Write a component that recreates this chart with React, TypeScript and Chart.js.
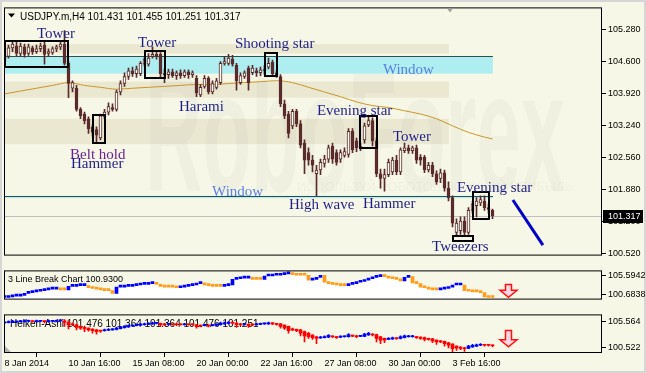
import React, { useEffect, useRef } from "react";
import { Chart, registerables } from "chart.js";

Chart.register(...registerables);
Chart.defaults.font.family = '"Liberation Sans", Arial, sans-serif';

const CREAM = "#f7f7e7";
const BROWN = "#5a2b2b";
const NAVY = "#1f1f8c";
const WIN_BLUE = "#5b7fe3";
const PURPLE = "#6c1f8e";
const MA_COLOR = "#c89628";
const HA_BLUE = "#0000ff";
const HA_RED = "#ff0000";
const LB_BLUE = "#0000ff";
const LB_ORANGE = "#ff9c1a";

const X_MIN = -0.125;
const X_MAX = 149.375;

const symbolTitle = "USDJPY.m,H4 101.431 101.455 101.251 101.317";
const lbTitle = "3 Line Break Chart 100.9300";
const haTitle = "Heiken-Ashi 101.476 101.364 101.364 101.476 101.251";
const lastPrice = 101.317;

const xTickIndex = [0, 16, 32, 48, 64, 80, 96, 112];
const xTickLabels = ["8 Jan 2014", "10 Jan 16:00", "15 Jan 08:00", "20 Jan 00:00", "22 Jan 16:00", "27 Jan 08:00", "30 Jan 00:00", "3 Feb 16:00"];
const priceTicks = [105.28, 104.6, 103.92, 103.24, 102.56, 101.88, 101.2, 100.52];
const lbTicks = [105.5942, 100.6838];
const haTicks = [105.564, 100.522];

// ---- USDJPY H4 candles ----
const openP = [
  104.77, 104.71, 104.89, 104.93, 104.77, 104.91, 104.77, 104.89, 104.81, 104.87,
  104.95, 104.77, 104.79, 104.87, 104.91, 104.97, 104.56, 104.03, 104.03, 103.58,
  103.48, 103.38, 103.21, 103.15, 102.97, 103.42, 103.52, 103.62, 103.58, 103.95,
  104.13, 104.28, 104.40, 104.34, 104.34, 104.54, 104.54, 104.71, 104.75, 104.75,
  104.34, 104.32, 104.38, 104.30, 104.36, 104.30, 104.38, 104.32, 104.24, 103.89,
  104.07, 104.24, 103.95, 104.05, 104.15, 104.56, 104.56, 104.65, 104.52, 104.15,
  104.28, 104.46, 104.36, 104.40, 104.36, 104.40, 104.48, 104.58, 104.36, 104.28,
  103.70, 103.48, 103.23, 103.54, 103.27, 102.86, 102.66, 102.50, 102.21, 102.29,
  102.43, 102.52, 102.80, 102.66, 102.52, 102.60, 102.62, 103.11, 102.91, 102.76,
  102.93, 103.25, 103.34, 102.91, 102.21, 102.11, 102.19, 102.25, 102.50, 102.25,
  102.70, 102.76, 102.70, 102.76, 102.56, 102.56, 102.29, 102.39, 102.21, 102.11,
  102.23, 101.90, 101.70, 100.96, 101.00, 101.20, 100.96, 101.43, 101.53, 101.59,
  101.63, 101.49, 101.431,
];
const highP = [
  104.85, 104.95, 105.05, 105.01, 104.99, 104.97, 104.97, 104.93, 104.95, 104.99,
  105.01, 104.87, 104.91, 104.95, 105.01, 105.26, 104.60, 104.19, 104.09, 103.62,
  103.52, 103.42, 103.25, 103.21, 103.48, 103.58, 103.72, 103.70, 103.99, 104.19,
  104.36, 104.46, 104.48, 104.50, 104.60, 104.71, 104.77, 104.91, 104.81, 104.79,
  104.44, 104.44, 104.44, 104.40, 104.42, 104.42, 104.42, 104.40, 104.30, 104.11,
  104.30, 104.28, 104.19, 104.24, 104.60, 104.71, 104.75, 104.73, 104.56, 104.36,
  104.40, 104.50, 104.52, 104.46, 104.48, 104.52, 104.67, 104.63, 104.40, 104.32,
  103.78, 103.54, 103.58, 103.58, 103.34, 102.93, 102.76, 102.60, 102.39, 102.52,
  102.60, 102.82, 102.86, 102.72, 102.72, 102.76, 103.17, 103.17, 102.97, 102.86,
  103.29, 103.42, 103.40, 102.97, 102.31, 102.31, 102.52, 102.56, 102.60, 102.76,
  102.86, 102.82, 102.80, 102.82, 102.62, 102.60, 102.45, 102.45, 102.27, 102.31,
  102.29, 102.04, 101.74, 101.25, 101.29, 101.29, 101.49, 101.63, 101.70, 101.74,
  101.74, 101.57, 101.455,
];
const lowP = [
  104.56, 104.67, 104.81, 104.71, 104.71, 104.69, 104.73, 104.75, 104.77, 104.81,
  104.54, 104.71, 104.75, 104.81, 104.85, 104.52, 103.83, 103.95, 103.54, 103.38,
  103.27, 103.07, 103.01, 102.86, 102.93, 103.38, 103.46, 103.54, 103.54, 103.89,
  104.07, 104.22, 104.28, 104.26, 104.30, 104.50, 104.50, 104.67, 104.65, 104.26,
  104.15, 104.24, 104.26, 104.22, 104.24, 104.26, 104.24, 104.26, 103.85, 103.85,
  104.03, 103.91, 103.91, 104.01, 104.11, 104.52, 104.52, 104.50, 103.99, 104.11,
  104.24, 103.99, 104.32, 104.28, 104.30, 104.32, 104.44, 104.30, 104.26, 103.64,
  103.38, 102.97, 103.17, 103.21, 102.76, 102.21, 102.39, 102.25, 101.74, 102.19,
  102.35, 102.45, 102.43, 102.39, 102.45, 102.56, 102.56, 102.66, 102.68, 102.70,
  102.86, 103.21, 102.80, 102.15, 101.90, 101.84, 102.15, 102.19, 102.19, 102.19,
  102.66, 102.64, 102.64, 102.43, 102.39, 102.23, 102.25, 102.15, 101.98, 102.02,
  101.84, 101.63, 101.08, 100.90, 100.92, 100.90, 100.92, 101.37, 101.29, 101.53,
  101.43, 101.37, 101.251,
];
const closeP = [
  104.60, 104.89, 104.97, 104.77, 104.93, 104.75, 104.91, 104.81, 104.87, 104.93,
  104.75, 104.81, 104.87, 104.91, 104.97, 104.56, 104.13, 104.15, 103.58, 103.44,
  103.34, 103.17, 103.09, 103.03, 103.44, 103.52, 103.64, 103.58, 103.95, 104.13,
  104.28, 104.40, 104.34, 104.44, 104.56, 104.65, 104.67, 104.75, 104.71, 104.34,
  104.32, 104.38, 104.30, 104.36, 104.30, 104.38, 104.32, 104.36, 103.93, 104.05,
  104.24, 103.95, 104.13, 104.19, 104.56, 104.60, 104.67, 104.54, 104.19, 104.30,
  104.36, 104.15, 104.46, 104.36, 104.42, 104.44, 104.56, 104.34, 104.30, 103.70,
  103.44, 103.07, 103.54, 103.27, 102.82, 102.50, 102.50, 102.39, 102.29, 102.45,
  102.52, 102.76, 102.52, 102.45, 102.66, 102.68, 103.11, 102.72, 102.76, 102.80,
  103.23, 103.34, 102.91, 102.21, 102.11, 102.19, 102.45, 102.50, 102.25, 102.72,
  102.76, 102.70, 102.76, 102.50, 102.50, 102.29, 102.39, 102.21, 102.04, 102.23,
  101.90, 101.70, 101.16, 101.16, 101.20, 100.96, 101.43, 101.57, 101.63, 101.66,
  101.49, 101.45, 101.317,
];

// moving average (read at every 4th bar)
const maIndex = [0, 4, 8, 12, 16, 20, 24, 28, 32, 36, 40, 44, 48, 52, 56, 60, 64, 68, 72, 76, 80, 84, 88, 92, 96, 100, 104, 108, 112, 116, 120, 122];
const maValue = [103.91, 103.97, 104.03, 104.09, 104.15, 104.09, 104.05, 104.01, 104.03, 104.05, 104.07, 104.09, 104.11, 104.11, 104.13, 104.15, 104.17, 104.19, 104.15, 104.05, 103.95, 103.85, 103.74, 103.66, 103.62, 103.55, 103.48, 103.38, 103.23, 103.09, 102.99, 102.95];

// forecast line
const forecastIndex = [127.1, 134.6];
const forecastValue = [101.65, 100.69];

// ---- 3 Line Break levels ----
const lbValue = [
  100.04, 100.22, 100.39, 100.39, 100.56, 101.08, 101.26, 101.43, 101.60, 101.78,
  101.95, 102.12, 102.12, 102.30, 101.95, 101.95, 102.82, 102.82, 102.99, 102.99,
  102.99, 102.47, 102.30, 102.12, 101.95, 101.78, 101.78, 101.08, 102.64, 102.64,
  102.82, 102.82, 102.99, 103.17, 103.34, 103.34, 103.51, 103.51, 103.34, 102.82,
  102.64, 102.64, 102.64, 102.47, 102.64, 102.82, 102.99, 103.17, 103.51, 103.69,
  103.17, 102.99, 102.82, 102.82, 102.82, 102.99, 103.17, 104.55, 104.73, 104.90,
  104.90, 105.07, 104.55, 104.55, 104.55, 105.42, 105.42, 105.59, 105.59, 105.77,
  105.94, 106.12, 105.77, 105.59, 105.59, 105.59, 104.38, 104.55, 105.07, 105.59,
  103.86, 103.51, 103.34, 103.17, 102.99, 102.99, 103.34, 103.51, 103.86, 104.03,
  104.38, 104.73, 105.07, 105.25, 105.42, 105.25, 104.90, 104.73, 104.55, 104.21,
  105.07, 105.25, 103.69, 103.51, 102.64, 102.47, 102.12, 101.95, 101.95, 102.12,
  102.30, 102.64, 103.17, 103.17, 103.17, 101.78, 101.60, 101.43, 101.43, 101.26,
  100.22, 100.04, 100.04,
];

// ---- Heiken-Ashi ----
const haOpen = [
  105.35, 105.43, 105.51, 105.51, 105.60, 105.60, 105.68, 105.68, 105.60, 105.68,
  105.68, 105.60, 105.68, 105.68, 105.77, 105.77, 105.51, 105.18, 105.01, 104.67,
  104.50, 104.34, 104.17, 104.00, 103.83, 103.83, 103.92, 104.00, 104.09, 104.25,
  104.42, 104.59, 104.76, 104.84, 104.93, 105.01, 105.09, 105.18, 105.26, 105.26,
  105.18, 105.09, 105.09, 105.09, 105.09, 105.01, 105.09, 105.09, 105.01, 104.84,
  104.84, 104.93, 104.84, 104.93, 105.01, 105.18, 105.26, 105.35, 105.35, 105.18,
  105.09, 105.09, 105.01, 105.01, 105.09, 105.18, 105.18, 105.26, 105.18, 105.18,
  104.93, 104.67, 104.17, 104.09, 104.00, 103.67, 103.33, 102.99, 102.66, 102.41,
  102.49, 102.57, 102.74, 102.66, 102.57, 102.66, 102.66, 102.83, 102.83, 102.74,
  102.74, 102.99, 103.16, 103.08, 102.66, 102.32, 102.15, 102.24, 102.32, 102.32,
  102.49, 102.66, 102.66, 102.66, 102.57, 102.49, 102.32, 102.24, 101.99, 101.82,
  101.74, 101.48, 101.23, 100.81, 100.64, 100.47, 100.39, 100.64, 100.81, 100.98,
  101.06, 101.06, 100.98,
];
const haClose = [
  105.51, 105.60, 105.68, 105.60, 105.68, 105.77, 105.77, 105.60, 105.77, 105.77,
  105.60, 105.68, 105.77, 105.77, 105.85, 105.51, 105.01, 105.01, 104.50, 104.34,
  104.17, 104.00, 103.83, 103.67, 103.75, 104.00, 104.09, 104.09, 104.34, 104.50,
  104.67, 104.84, 104.84, 105.01, 105.09, 105.18, 105.26, 105.26, 105.30, 105.01,
  105.01, 105.13, 105.01, 105.01, 105.01, 105.09, 105.01, 105.01, 104.67, 104.76,
  104.93, 104.76, 104.93, 105.01, 105.35, 105.35, 105.43, 105.31, 105.01, 105.01,
  105.13, 104.84, 104.97, 105.09, 105.18, 105.22, 105.35, 105.18, 105.09, 104.67,
  104.34, 103.83, 104.00, 103.83, 103.33, 102.83, 102.66, 102.49, 102.32, 102.57,
  102.66, 102.91, 102.66, 102.49, 102.66, 102.70, 103.08, 102.79, 102.66, 102.78,
  103.16, 103.33, 102.99, 102.32, 101.99, 101.99, 102.32, 102.41, 102.28, 102.66,
  102.83, 102.74, 102.74, 102.49, 102.32, 102.15, 102.15, 101.82, 101.65, 101.65,
  101.31, 100.98, 100.31, 100.47, 100.39, 100.31, 100.81, 100.98, 101.06, 101.15,
  100.98, 100.98, 100.89,
];
const haHigh = [
  105.68, 105.77, 105.85, 105.77, 105.85, 105.93, 105.93, 105.77, 105.93, 105.85,
  105.77, 105.77, 105.85, 105.93, 106.02, 106.02, 105.60, 105.35, 105.09, 104.76,
  104.59, 104.42, 104.25, 104.09, 103.92, 104.17, 104.25, 104.25, 104.50, 104.67,
  104.84, 105.01, 105.01, 105.18, 105.26, 105.35, 105.43, 105.51, 105.43, 105.35,
  105.26, 105.26, 105.18, 105.18, 105.18, 105.26, 105.18, 105.18, 105.09, 104.93,
  105.09, 105.01, 105.09, 105.18, 105.51, 105.51, 105.60, 105.51, 105.43, 105.26,
  105.26, 105.18, 105.09, 105.26, 105.35, 105.35, 105.51, 105.43, 105.26, 105.26,
  105.01, 104.76, 104.34, 104.17, 104.09, 103.75, 103.50, 103.08, 102.74, 102.74,
  102.83, 103.08, 102.83, 102.74, 102.83, 102.83, 103.25, 102.99, 102.91, 102.91,
  103.33, 103.50, 103.25, 103.16, 102.74, 102.41, 102.49, 102.57, 102.41, 102.83,
  102.99, 102.91, 102.91, 102.74, 102.66, 102.57, 102.41, 102.32, 102.07, 101.90,
  101.82, 101.56, 101.31, 100.89, 100.73, 100.56, 100.98, 101.15, 101.23, 101.31,
  101.15, 101.15, 101.06,
];
const haLow = [
  105.26, 105.35, 105.43, 105.43, 105.51, 105.51, 105.60, 105.51, 105.51, 105.60,
  105.35, 105.51, 105.60, 105.60, 105.68, 104.67, 104.17, 104.84, 104.00, 104.09,
  103.67, 103.75, 103.33, 103.16, 103.50, 103.75, 103.83, 103.92, 104.00, 104.17,
  104.34, 104.50, 104.67, 104.76, 104.84, 104.93, 105.01, 105.09, 105.18, 104.67,
  104.84, 104.93, 104.93, 104.84, 104.93, 104.93, 104.93, 104.93, 104.34, 104.59,
  104.76, 104.59, 104.76, 104.84, 104.93, 105.09, 105.18, 105.18, 104.50, 104.84,
  104.93, 104.50, 104.84, 104.93, 105.01, 105.09, 105.09, 105.01, 104.93, 104.34,
  104.09, 103.33, 103.83, 103.67, 102.83, 101.65, 102.32, 102.15, 101.31, 102.32,
  102.41, 102.49, 102.49, 102.32, 102.49, 102.57, 102.57, 102.66, 102.49, 102.66,
  102.66, 102.91, 102.83, 101.65, 101.31, 101.48, 102.07, 102.15, 102.15, 102.24,
  102.41, 102.57, 102.57, 102.32, 102.15, 101.82, 101.99, 101.48, 101.15, 101.48,
  100.81, 100.47, 99.63, 99.97, 100.14, 99.80, 100.31, 100.56, 100.73, 100.89,
  100.81, 100.81, 100.64,
];

// ---- annotations (bar index / price anchors) ----
const watermarkBands = [
  { top: 104.97, bottom: 104.77, to: 111.1 },
  { top: 104.17, bottom: 103.83, to: 111.1 },
  { top: 103.38, bottom: 102.84, to: 111.1 },
];
const windowZones = [
  { from: -0.125, to: 122.1, top: 104.71, bottom: 104.34 },
  { from: -0.125, to: 122.1, top: 101.74, bottom: 101.69 },
];
const patternBoxes = [
  { from: 0.1, to: 15.9, top: 105.03, bottom: 104.48 },
  { from: 22.1, to: 25.1, top: 103.46, bottom: 102.86 },
  { from: 35.1, to: 40.1, top: 104.83, bottom: 104.24 },
  { from: 65.1, to: 68.1, top: 104.79, bottom: 104.28 },
  { from: 88.9, to: 93.1, top: 103.44, bottom: 102.76 },
  { from: 117.1, to: 121.1, top: 101.82, bottom: 101.25 },
  { from: 112.1, to: 117.1, top: 100.88, bottom: 100.78 },
];
const patternLabels = [
  { text: "Tower", i: 8.1, price: 105.11, color: NAVY },
  { text: "Tower", i: 33.4, price: 104.91, color: NAVY },
  { text: "Shooting star", i: 57.6, price: 104.89, color: NAVY },
  { text: "Window", i: 94.6, price: 104.34, color: WIN_BLUE },
  { text: "Harami", i: 43.6, price: 103.54, color: NAVY },
  { text: "Evening star", i: 78.1, price: 103.46, color: NAVY },
  { text: "Belt hold", i: 16.4, price: 102.53, color: PURPLE },
  { text: "Hammer", i: 16.6, price: 102.33, color: NAVY },
  { text: "Tower", i: 97.1, price: 102.91, color: NAVY },
  { text: "Window", i: 51.9, price: 101.73, color: WIN_BLUE },
  { text: "High wave", i: 71.1, price: 101.45, color: NAVY },
  { text: "Hammer", i: 89.6, price: 101.49, color: NAVY },
  { text: "Evening star", i: 113.1, price: 101.82, color: NAVY },
  { text: "Tweezers", i: 106.9, price: 100.57, color: NAVY },
];
const arrowIndex = 126.0;
const lbArrow = { top: 103.29, bottom: 100.09 };
const haArrow = { top: 103.88, bottom: 100.69 };
const watermarkText = "RoboForex";
const sloganText = "ИСПОЛЬЗУЙ РОБОТОВ ПОЛУЧАЙ ПРИБЫЛЬ";

// ---------- helpers ----------
const idx = openP.map((_, i) => i);

function drawFrame(ctx: CanvasRenderingContext2D, a: any) {
  ctx.save();
  ctx.strokeStyle = "#000";
  ctx.lineWidth = 1;
  ctx.strokeRect(a.left + 0.5, a.top + 0.5, a.right - a.left - 1, a.bottom - a.top - 1);
  ctx.restore();
}

function drawDownArrow(ctx: CanvasRenderingContext2D, cx: number, yTop: number, yBot: number) {
  const sh = 3, hw = 8.5, hh = 7;
  ctx.save();
  ctx.beginPath();
  ctx.moveTo(cx - sh, yTop);
  ctx.lineTo(cx + sh, yTop);
  ctx.lineTo(cx + sh, yBot - hh);
  ctx.lineTo(cx + hw, yBot - hh);
  ctx.lineTo(cx, yBot);
  ctx.lineTo(cx - hw, yBot - hh);
  ctx.lineTo(cx - sh, yBot - hh);
  ctx.closePath();
  ctx.fillStyle = "#ffd8e2";
  ctx.fill();
  ctx.strokeStyle = "#ff1010";
  ctx.lineWidth = 1.5;
  ctx.stroke();
  ctx.restore();
}

function yAxis(min: number, max: number, ticks: number[], digits: number) {
  return {
    position: "right",
    min,
    max,
    afterFit: (s: any) => { s.width = 44; },
    afterBuildTicks: (s: any) => { s.ticks = ticks.map((v) => ({ value: v })); },
    ticks: {
      callback: (v: any) => Number(v).toFixed(digits),
      font: { family: "Liberation Sans", size: 9 },
      color: "#000",
      padding: 2,
      autoSkip: false,
    },
    grid: { drawOnChartArea: false, tickLength: 4, color: "#000" },
    border: { display: false },
  };
}

const baseOptions = {
  responsive: false,
  animation: false,
  devicePixelRatio: 1,
  events: [],
  plugins: { legend: { display: false }, tooltip: { enabled: false }, title: { display: false } },
};

// ---------- main chart ----------
const mainDecor = {
  id: "mainDecor",
  beforeDatasetsDraw(chart: any) {
    const { ctx, chartArea: a, scales } = chart;
    const xs = scales.x, ys = scales.y;
    ctx.save();
    ctx.beginPath();
    ctx.rect(a.left, a.top, a.right - a.left, a.bottom - a.top);
    ctx.clip();
    ctx.fillStyle = "#ebe8d2";
    for (const b of watermarkBands) {
      const x1 = xs.getPixelForValue(b.to);
      const y0 = ys.getPixelForValue(b.top), y1 = ys.getPixelForValue(b.bottom);
      ctx.fillRect(a.left, y0, x1 - a.left, y1 - y0);
    }
    // faint watermark
    ctx.fillStyle = "rgba(40,40,20,0.03)";
    ctx.font = 'bold 170px "Liberation Sans"';
    const w = ctx.measureText(watermarkText).width;
    ctx.save();
    ctx.translate(a.left + 141, a.top + 184);
    ctx.scale(420 / w, 1);
    ctx.fillText(watermarkText, 0, 0);
    ctx.restore();
    ctx.font = '13px "Liberation Sans"';
    ctx.fillText(sloganText, a.left + 293, a.top + 184, 276);
    // windows
    for (const z of windowZones) {
      const x0 = xs.getPixelForValue(z.from), x1 = xs.getPixelForValue(z.to);
      const y0 = ys.getPixelForValue(z.top), y1 = ys.getPixelForValue(z.bottom);
      ctx.fillStyle = "#aeeef0";
      ctx.fillRect(x0, y0, x1 - x0, y1 - y0);
      ctx.strokeStyle = "#2f4f4f";
      ctx.lineWidth = 1;
      const yy = Math.round(y0) + 0.5;
      ctx.beginPath();
      ctx.moveTo(x0, yy);
      ctx.lineTo(x1, yy);
      ctx.stroke();
    }
    // last price line
    const yp = Math.round(ys.getPixelForValue(lastPrice)) + 0.5;
    ctx.strokeStyle = "#c0c0c0";
    ctx.lineWidth = 1;
    ctx.beginPath();
    ctx.moveTo(a.left, yp);
    ctx.lineTo(a.right, yp);
    ctx.stroke();
    ctx.restore();
  },
  afterDatasetsDraw(chart: any) {
    const { ctx, chartArea: a, scales } = chart;
    const xs = scales.x, ys = scales.y;
    ctx.save();
    ctx.strokeStyle = "#000";
    ctx.lineWidth = 2;
    for (const b of patternBoxes) {
      const x0 = Math.round(xs.getPixelForValue(b.from));
      const x1 = Math.round(xs.getPixelForValue(b.to));
      const y0 = Math.round(ys.getPixelForValue(b.top));
      const y1 = Math.round(ys.getPixelForValue(b.bottom));
      ctx.strokeRect(x0, y0, x1 - x0, y1 - y0);
    }
    ctx.font = '15px "Liberation Serif"';
    ctx.textAlign = "left";
    ctx.textBaseline = "alphabetic";
    for (const l of patternLabels) {
      ctx.fillStyle = l.color;
      ctx.fillText(l.text, xs.getPixelForValue(l.i), ys.getPixelForValue(l.price));
    }
    // title
    ctx.fillStyle = "#000";
    ctx.beginPath();
    ctx.moveTo(a.left + 4, a.top + 6);
    ctx.lineTo(a.left + 11, a.top + 6);
    ctx.lineTo(a.left + 7.5, a.top + 10);
    ctx.closePath();
    ctx.fill();
    ctx.font = '10px "Liberation Sans"';
    ctx.fillText(symbolTitle, a.left + 16, a.top + 13);
    ctx.restore();
  },
  afterDraw(chart: any) {
    const { ctx, chartArea: a, scales } = chart;
    drawFrame(ctx, a);
    ctx.save();
    // shift marker
    ctx.fillStyle = "#a0a0a0";
    ctx.beginPath();
    ctx.moveTo(a.left + 443, a.top + 1);
    ctx.lineTo(a.left + 449, a.top + 1);
    ctx.lineTo(a.left + 446, a.top + 5);
    ctx.closePath();
    ctx.fill();
    // last price label
    const yp = Math.round(scales.y.getPixelForValue(lastPrice));
    ctx.fillStyle = "#000";
    ctx.fillRect(a.right + 1, yp - 6, 40, 13);
    ctx.fillStyle = "#fff";
    ctx.font = '9px "Liberation Sans"';
    ctx.textBaseline = "middle";
    ctx.fillText(lastPrice.toFixed(3), a.right + 6, yp + 0.5);
    ctx.restore();
  },
};

function mainConfig(): any {
  const bull = idx.map((i) => closeP[i] >= openP[i]);
  return {
    type: "bar",
    data: {
      datasets: [
        {
          type: "bar",
          data: idx.map((i) => ({ x: i, y: [openP[i], closeP[i]] })),
          barThickness: 3,
          grouped: false,
          borderWidth: 1,
          borderSkipped: false,
          borderColor: BROWN,
          backgroundColor: bull.map((b) => (b ? "#fbfbf3" : BROWN)),
          minBarLength: 1,
          order: 0,
        },
        {
          type: "bar",
          data: idx.map((i) => ({ x: i, y: [lowP[i], highP[i]] })),
          barThickness: 1,
          grouped: false,
          borderWidth: 0,
          backgroundColor: BROWN,
          order: 1,
        },
        {
          type: "line",
          data: maIndex.map((x, k) => ({ x, y: maValue[k] })),
          borderColor: MA_COLOR,
          borderWidth: 1,
          pointRadius: 0,
          cubicInterpolationMode: "monotone",
          order: 2,
        },
        {
          type: "line",
          data: forecastIndex.map((x, k) => ({ x, y: forecastValue[k] })),
          borderColor: "#0000cd",
          borderWidth: 3,
          pointRadius: 0,
          order: 0,
        },
      ],
    },
    options: {
      ...baseOptions,
      layout: { padding: { left: 4, right: 0, top: 4, bottom: 1 } },
      scales: {
        x: { type: "linear", min: X_MIN, max: X_MAX, offset: false, display: false },
        y: yAxis(100.467, 105.751, priceTicks, 3),
      },
    },
    plugins: [mainDecor],
  };
}

// ---------- 3 line break ----------
const lbDecor = {
  id: "lbDecor",
  beforeDatasetsDraw(chart: any) {
    const { ctx, chartArea: a } = chart;
    ctx.save();
    ctx.fillStyle = "#000";
    ctx.font = '9px "Liberation Sans"';
    ctx.fillText(lbTitle, a.left + 4, a.top + 12);
    ctx.restore();
  },
  afterDatasetsDraw(chart: any) {
    const { ctx, scales } = chart;
    drawDownArrow(ctx, scales.x.getPixelForValue(arrowIndex), scales.y.getPixelForValue(lbArrow.top), scales.y.getPixelForValue(lbArrow.bottom));
  },
  afterDraw(chart: any) {
    drawFrame(chart.ctx, chart.chartArea);
  },
};

function lbConfig(): any {
  const colors: string[] = [];
  let dir = 1;
  lbValue.forEach((v, i) => {
    if (i > 0) {
      if (v > lbValue[i - 1]) dir = 1;
      else if (v < lbValue[i - 1]) dir = -1;
    }
    colors.push(dir > 0 ? LB_BLUE : LB_ORANGE);
  });
  return {
    type: "bar",
    data: {
      datasets: [
        {
          type: "bar",
          data: lbValue.map((v, i) => ({ x: i, y: [i ? lbValue[i - 1] : v, v] })),
          barThickness: 3,
          grouped: false,
          borderWidth: 0,
          backgroundColor: colors,
          minBarLength: 2,
          order: 0,
        },
        {
          type: "line",
          data: lbValue.map((v, i) => ({ x: i, y: v })),
          borderWidth: 0,
          pointRadius: 0,
          fill: "start",
          backgroundColor: "#ffffff",
          stepped: "middle",
          order: 1,
        },
      ],
    },
    options: {
      ...baseOptions,
      layout: { padding: { left: 4, right: 0, top: 1, bottom: 1 } },
      scales: {
        x: { type: "linear", min: X_MIN, max: X_MAX, offset: false, display: false },
        y: yAxis(99.52, 106.81, lbTicks, 4),
      },
    },
    plugins: [lbDecor],
  };
}

// ---------- heiken ashi ----------
const haDecor = {
  id: "haDecor",
  beforeDatasetsDraw(chart: any) {
    const { ctx, chartArea: a } = chart;
    ctx.save();
    ctx.fillStyle = "#000";
    ctx.font = '10px "Liberation Sans"';
    ctx.fillText(haTitle, a.left + 6, a.top + 13);
    ctx.restore();
  },
  afterDatasetsDraw(chart: any) {
    const { ctx, scales, chartArea: a } = chart;
    drawDownArrow(ctx, scales.x.getPixelForValue(arrowIndex), scales.y.getPixelForValue(haArrow.top), scales.y.getPixelForValue(haArrow.bottom));
    ctx.save();
    ctx.fillStyle = "#b4b4b4";
    ctx.beginPath();
    ctx.moveTo(a.left + 1, a.bottom - 7);
    ctx.lineTo(a.left + 1, a.bottom);
    ctx.lineTo(a.left + 8, a.bottom);
    ctx.closePath();
    ctx.fill();
    ctx.restore();
  },
  afterDraw(chart: any) {
    drawFrame(chart.ctx, chart.chartArea);
  },
};

function haConfig(): any {
  const col = idx.map((i) => (haClose[i] >= haOpen[i] ? HA_BLUE : HA_RED));
  return {
    type: "bar",
    data: {
      datasets: [
        {
          type: "bar",
          data: idx.map((i) => ({ x: i, y: [haOpen[i], haClose[i]] })),
          barThickness: 3,
          grouped: false,
          borderWidth: 0,
          backgroundColor: col,
          minBarLength: 1,
          order: 0,
        },
        {
          type: "bar",
          data: idx.map((i) => ({ x: i, y: [haLow[i], haHigh[i]] })),
          barThickness: 1,
          grouped: false,
          borderWidth: 0,
          backgroundColor: col,
          order: 1,
        },
      ],
    },
    options: {
      ...baseOptions,
      layout: { padding: { left: 4, right: 0, top: 1, bottom: 0 } },
      scales: {
        x: {
          type: "linear",
          min: X_MIN,
          max: X_MAX,
          offset: false,
          position: "bottom",
          afterBuildTicks: (s: any) => { s.ticks = xTickIndex.map((v) => ({ value: v })); },
          afterFit: (s: any) => { s.height = 20; },
          ticks: {
            callback: (_v: any, index: number) => xTickLabels[index] ?? "",
            align: "start",
            autoSkip: false,
            maxRotation: 0,
            minRotation: 0,
            font: { family: "Liberation Sans", size: 9 },
            color: "#000",
            padding: 1,
          },
          grid: { drawOnChartArea: false, tickLength: 4, color: "#000" },
          border: { display: false },
        },
        y: yAxis(99.47, 107.03, haTicks, 3),
      },
    },
    plugins: [haDecor],
  };
}

export default function App() {
  const mainRef = useRef<HTMLCanvasElement>(null);
  const lbRef = useRef<HTMLCanvasElement>(null);
  const haRef = useRef<HTMLCanvasElement>(null);

  useEffect(() => {
    const charts = [
      new Chart(mainRef.current as HTMLCanvasElement, mainConfig()),
      new Chart(lbRef.current as HTMLCanvasElement, lbConfig()),
      new Chart(haRef.current as HTMLCanvasElement, haConfig()),
    ];
    return () => charts.forEach((c) => c.destroy());
  }, []);

  const cs: React.CSSProperties = { position: "absolute", left: 0 };
  return (
    <div style={{ position: "fixed", left: 0, top: 0, width: 646, height: 373, background: "#d6d6d6", overflow: "hidden" }}>
      <div style={{ position: "absolute", left: 2, top: 2, width: 642, height: 369, background: CREAM }} />
      <canvas ref={mainRef} width={646} height={263} style={{ ...cs, top: 0, width: 646, height: 263 }} />
      <canvas ref={lbRef} width={646} height={44} style={{ ...cs, top: 263, width: 646, height: 44 }} />
      <canvas ref={haRef} width={646} height={66} style={{ ...cs, top: 307, width: 646, height: 66 }} />
    </div>
  );
}
